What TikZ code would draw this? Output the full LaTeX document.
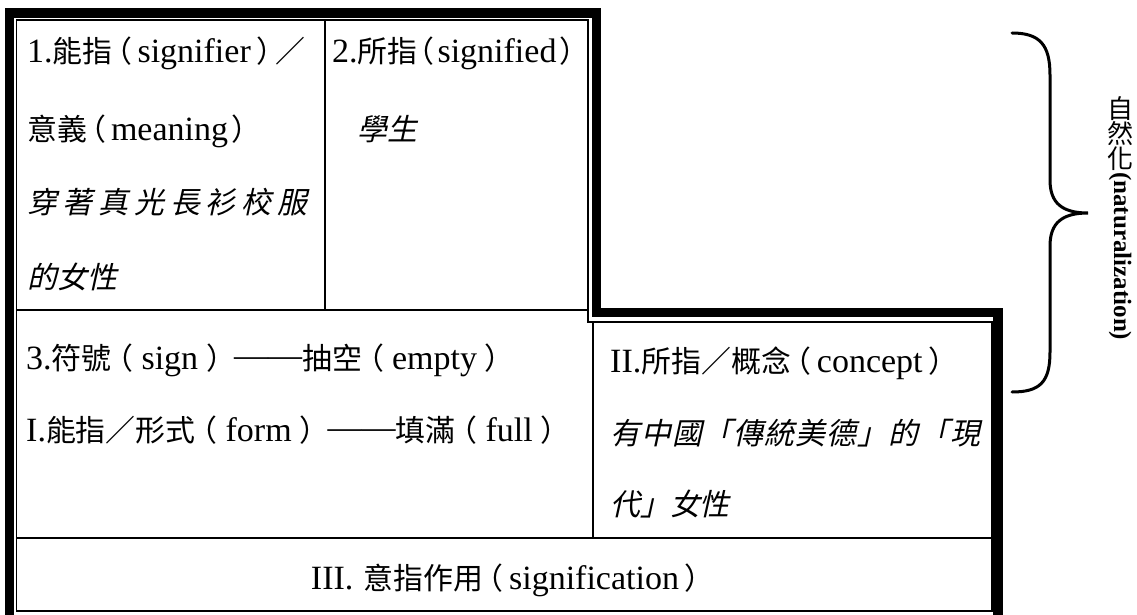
\documentclass[tikz,border=0pt]{standalone}
\usepackage{fontspec}
\setmainfont{Liberation Serif}
\newfontfamily\cj[Scale=0.88]{Noto Sans CJK TC}
\newfontfamily\cjit[Scale=0.88,FakeSlant=0.22]{Noto Sans CJK TC}
\newfontfamily\cjl{Noto Sans CJK TC}
\newcommand\zh[1]{{\cj #1}}
\newcommand\zi[1]{{\cjit #1}}
\newcommand\lp[1][30pt]{\makebox[#1][c]{\cj\hbox to 0.28em{\kern-0.62em （\hss}}}
\newcommand\rp[1][30pt]{\makebox[#1][c]{\cj\hbox to 0.28em{\kern-0.1em ）\hss}}}
\newcommand\dd{\kern6pt\raisebox{3pt}{——}}
\begin{document}
\begin{tikzpicture}[x=1pt,y=-1pt,
  thickband/.style={line width=9.5pt, line join=miter},
  thinline/.style={line width=1.3pt},
  txt/.style={anchor=base west, inner sep=0pt, font=\fontsize{34}{40}\selectfont},
  ctxt/.style={anchor=base, inner sep=0pt, font=\fontsize{34}{40}\selectfont},
  bracepath/.style={line width=3pt, line cap=round},
  vlab/.style={inner sep=0pt, font=\fontsize{26}{30}\selectfont}]
\path[use as bounding box] (0,0) rectangle (1137,615);
% thick outer border
\draw[thickband] (9.5,640) -- (9.5,13) -- (596.5,13) -- (596.5,312.5) -- (998,312.5) -- (998,640);
% thin table lines
\draw[thinline] (16.5,611) -- (16.5,20) -- (588,20) -- (588,322) -- (992,322) -- (992,611) -- cycle;
\draw[thinline] (325,20) -- (325,310);
\draw[thinline] (16.5,310) -- (588,310);
\draw[thinline] (593,322) -- (593,538);
\draw[thinline] (16.5,538) -- (992,538);
% row 1, cell 1
\node[txt] (a1) at (27,63) {1.\zh{能指}\lp[25pt]signifier\rp[25pt]\zh{／}};
\node[txt] (a2) at (27,140) {\zh{意義}\lp[24pt]meaning\rp[22pt]};
\node[txt] (a3) at (27,213) {\zi{\makebox[280pt][s]{穿\hfill 著\hfill 真\hfill 光\hfill 長\hfill 衫\hfill 校\hfill 服}}};
\node[txt] (a4) at (27,288) {\zi{的女性}};
% row 1, cell 2
\node[txt] (b1) at (332,63) {2.\zh{所指}\lp[20pt]signified\rp[20pt]};
\node[txt] (b2) at (357,140) {\zi{學生}};
% row 2, left
\node[txt] (c1) at (26,369) {3.\zh{符號}\lp sign\rp\dd\zh{抽空}\lp empty\rp};
\node[txt] (c2) at (26,441) {I.\zh{能指／形式}\lp form\rp\dd\zh{填滿}\lp full\rp};
% row 2, right
\node[txt] (d1) at (610,372) {II.\zh{所指／概念}\lp[26pt]concept\rp[26pt]};
\node[txt] (d2) at (610,444) {\zi{\makebox[370pt][s]{有\hfill 中\hfill 國\hfill 「\hfill 傳\hfill 統\hfill 美\hfill 德\hfill 」\hfill 的\hfill 「\hfill 現}}};
\node[txt] (d3) at (610,515) {\zi{代」女性}};
% row 3
\node[ctxt] (e1) at (508,589) {III.\hspace{10pt}\zh{意指作用}\lp[26pt]signification\rp[26pt]};
% brace
\draw[bracepath] (1012,33) .. controls (1040,33) and (1050,45) .. (1050,75)
  -- (1050,180) .. controls (1050,203) and (1062,213) .. (1088,213)
  .. controls (1062,213) and (1050,223) .. (1050,246)
  -- (1050,352) .. controls (1050,382) and (1040,392) .. (1012,392);
% vertical label
\node[vlab] (v1) at (1120,109) {\cjl 自};
\node[vlab] (v2) at (1120,134) {\cjl 然};
\node[vlab] (v3) at (1120,159) {\cjl 化};
\node[vlab, rotate=-90, anchor=west, font=\fontsize{25}{30}\selectfont\bfseries] (v4) at (1120,172) {(naturalization)};
\end{tikzpicture}
\end{document}
